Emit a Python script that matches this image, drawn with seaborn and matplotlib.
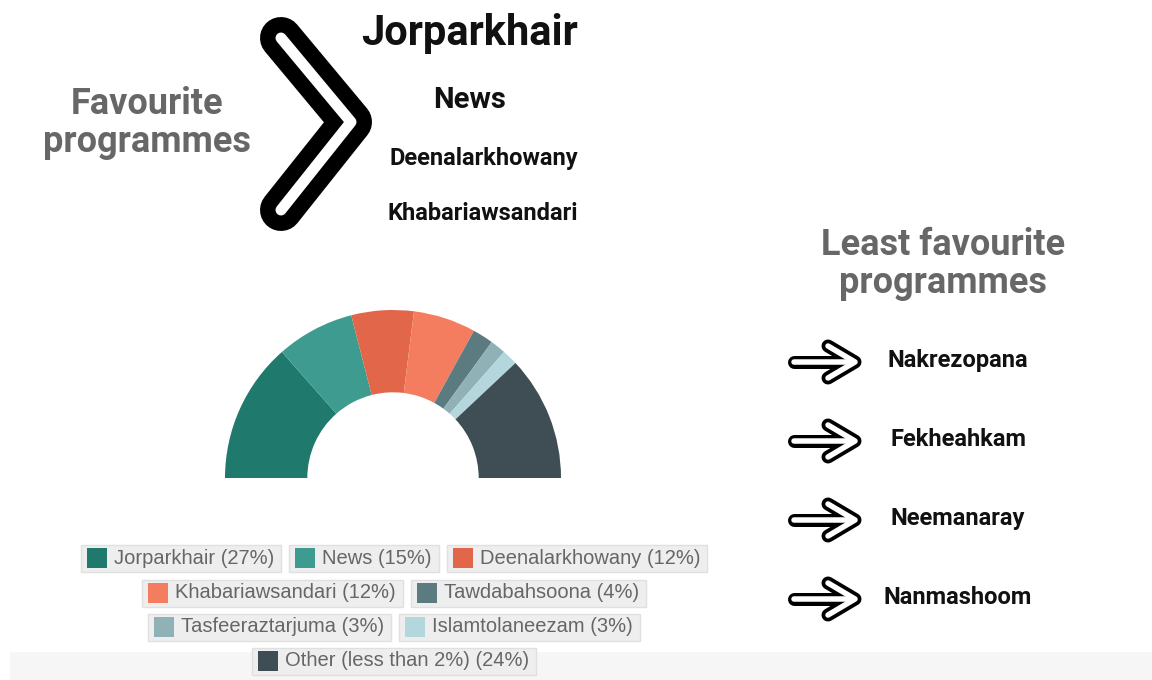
import matplotlib
matplotlib.use("Agg")
import matplotlib.pyplot as plt
import seaborn as sns
from matplotlib.patches import Rectangle

# data
programmes = ["Jorparkhair", "News", "Deenalarkhowany", "Khabariawsandari",
              "Tawdabahsoona", "Tasfeeraztarjuma", "Islamtolaneezam", "Other (less than 2%)"]
shares = [27, 15, 12, 12, 4, 3, 3, 24]
colours = ["#1f7a6d", "#3e9b8f", "#e2674a", "#f47d5f",
           "#5b7b80", "#90b1b6", "#b4d7dd", "#3f4e54"]
least_favourite = ["Nakrezopana", "Fekheahkam", "Neemanaray", "Nanmashoom"]
legend_rows = [3, 2, 2, 1]

sns.set_theme(style="white")
plt.rcParams['font.family'] = ['Roboto', 'DejaVu Sans']
PT = 0.72  # px -> pt at dpi 100

fig = plt.figure(figsize=(11.52, 6.8), dpi=100)
bg = fig.add_axes([0, 0, 1, 1])
bg.set_xlim(0, 1152)
bg.set_ylim(680, 0)
bg.axis("off")

# light strip at the bottom
bg.add_patch(Rectangle((10, 652), 1142, 28, color="#f6f6f6", lw=0, zorder=0))

# headings
grey = "#676767"
bg.text(147, 123, "Favourite\nprogrammes", ha="center", va="center", fontsize=26,
        fontweight="bold", color=grey, linespacing=1.05)
bg.text(943, 264, "Least favourite\nprogrammes", ha="center", va="center", fontsize=26,
        fontweight="bold", color=grey, linespacing=1.05)

# big chevron
chev_x, chev_y = [281, 351, 281], [38, 122, 210]
bg.plot(chev_x, chev_y, color="black", lw=42 * PT, solid_capstyle="round", solid_joinstyle="round")
bg.plot(chev_x, chev_y, color="white", lw=11 * PT, solid_capstyle="round", solid_joinstyle="round")

# top four favourite programmes
top_y = [34, 100, 158, 213]
top_x = [470, 470, 484, 483]
top_size = [30, 21, 17, 17]
for name, x, y, s in zip(programmes[:4], top_x, top_y, top_size):
    bg.text(x, y, name, ha="center", va="center", fontsize=s, fontweight="bold", color="#111111")

# least favourite list with outlined arrows
for i, name in enumerate(least_favourite):
    y = 362 + i * 79
    segs = [([794, 852], [y, y]), ([828, 855, 828], [y - 16, y, y + 16])]
    for xs, ys in segs:
        bg.plot(xs, ys, color="black", lw=13 * PT, solid_capstyle="round", solid_joinstyle="round")
    for xs, ys in segs:
        bg.plot(xs, ys, color="white", lw=5.5 * PT, solid_capstyle="round", solid_joinstyle="round")
    bg.text(958, y - 2, name, ha="center", va="center", fontsize=17, fontweight="bold", color="#111111")

# half donut
cx, cy, R = 393, 478, 168
ax = fig.add_axes([(cx - R) / 1152, (680 - cy - R) / 680, 2 * R / 1152, 2 * R / 680])
wedges, _ = ax.pie(shares + [sum(shares)], colors=colours + ["none"], startangle=180,
                   counterclock=False, radius=1, wedgeprops=dict(width=0.49, linewidth=0))
ax.set_xlim(-1, 1)
ax.set_ylim(-1, 1)
ax.axis("off")

# legend boxes
labels = [f"{p} ({s}%)" for p, s in zip(programmes, shares)]
renderer = fig.canvas.get_renderer()
row_y = [558, 593, 627, 661]
k = 0
for r, n in enumerate(legend_rows):
    items = []
    for j in range(n):
        t = bg.text(0, row_y[r], labels[k + j], ha="left", va="center", fontsize=14.5,
                    color="#666666", family=["Liberation Sans", "DejaVu Sans"], zorder=3)
        w = t.get_window_extent(renderer).width
        items.append((t, w, colours[k + j]))
    widths = [6 + 20 + 7 + w + 7 for _, w, _ in items]
    total = sum(widths) + 8 * (n - 1)
    x = 394 - total / 2
    for (t, w, c), bw in zip(items, widths):
        bg.add_patch(Rectangle((x, row_y[r] - 13.5), bw, 27, facecolor="#eeeeee",
                               edgecolor="#e0e0e0", lw=1, zorder=1))
        bg.add_patch(Rectangle((x + 6, row_y[r] - 10), 20, 20, facecolor=c, lw=0, zorder=2))
        t.set_x(x + 33)
        x += bw + 8
    k += n

fig.savefig("out.png", dpi=100)
